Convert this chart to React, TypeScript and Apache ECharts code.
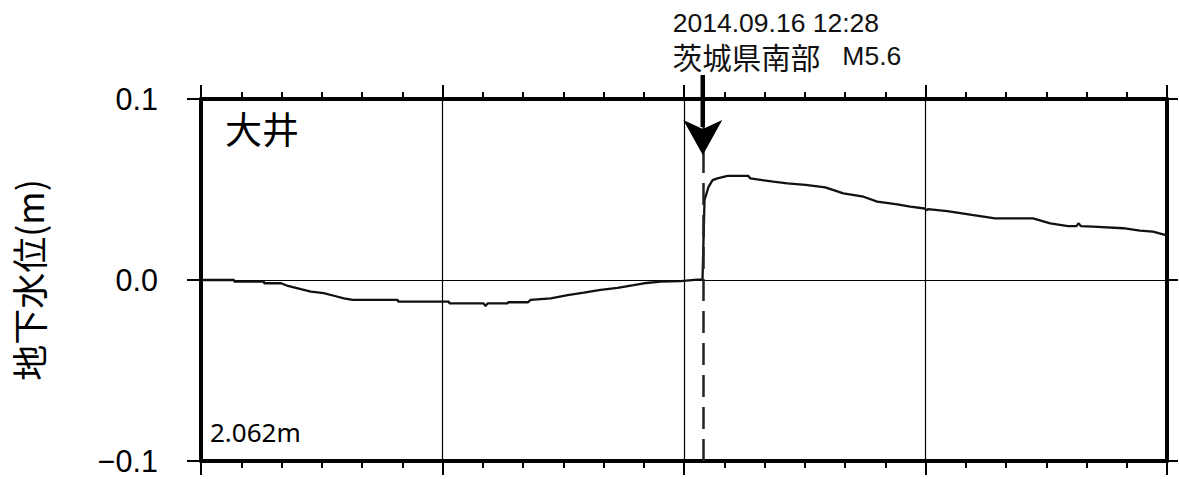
import React, { useEffect, useRef } from "react";
import * as echarts from "echarts";

// Hours since 2014-09-16 00:00 (x axis spans one day, 0..24 h)
const HOURS = [
  0, 0.82, 0.83, 1.56, 1.57, 1.99, 2.16, 2.48, 2.73, 3.05, 3.3, 3.55, 3.77, 4.89, 4.9,
  6.16, 6.17, 7.02, 7.07, 7.12, 7.62, 7.63, 8.12, 8.19, 8.69, 9.11, 9.51, 9.93, 10.35,
  10.75, 11.0, 11.42, 11.91, 12.34, 12.46, 12.51, 12.61, 12.71, 12.83, 13.08, 13.6,
  13.65, 14.22, 14.57, 15.02, 15.51, 15.96, 16.46, 16.8, 17.3, 17.62, 17.98, 18.02,
  18.06, 18.54, 19.19, 19.73, 20.67, 21.1, 21.54, 21.75, 21.8, 21.86, 22.16, 22.91,
  23.33, 23.65, 23.95, 24
];
// Groundwater level change (m)
const LEVELS = [
  0, 0, -0.0009, -0.0009, -0.0018, -0.0018, -0.0033, -0.0051, -0.0064, -0.0073, -0.0087,
  -0.0101, -0.011, -0.011, -0.012, -0.012, -0.0129, -0.0129, -0.0144, -0.0129, -0.0129,
  -0.0123, -0.0123, -0.011, -0.0101, -0.0083, -0.007, -0.0055, -0.0043, -0.0028,
  -0.0018, -0.0009, -0.0006, 0.0002, 0.0002, 0.0442, 0.0515, 0.0552, 0.0561, 0.0575,
  0.0575, 0.0561, 0.0543, 0.0534, 0.0525, 0.0512, 0.0479, 0.046, 0.0433, 0.0418,
  0.0405, 0.0395, 0.0385, 0.0392, 0.0381, 0.0359, 0.0341, 0.0341, 0.0313, 0.0298,
  0.0298, 0.0313, 0.0298, 0.0295, 0.0286, 0.0273, 0.0267, 0.0249, 0.0245
];
const Y_TICKS = [-0.1, 0, 0.1];
const Y_TICK_LABELS = ["\u22120.1", "0.0", "0.1"];

const EQ_HOUR = 12 + 28 / 60;
const EQ_LINE1 = "2014.09.16 12:28";
const EQ_PLACE = "茨城県南部";
const EQ_MAG = "M5.6";
const STATION = "大井";
const BASE_LEVEL = "2.062m";
const Y_NAME = "地下水位(m)";

const NUM_FONT = "'Noto Sans', 'Open Sans', sans-serif";
const LAT_FONT = "'Liberation Sans', Arial, sans-serif";
const CJK_FONT = "'Noto Sans CJK JP', sans-serif";

export default function App() {
  const ref = useRef<HTMLDivElement>(null);
  useEffect(() => {
    if (!ref.current) return;
    const chart = echarts.init(ref.current, null, { renderer: "svg" });
    const data = HOURS.map((h, i) => [h, LEVELS[i]]);
    const xCommon = {
      type: "value",
      min: 0,
      max: 24,
      interval: 6,
      axisLine: { show: true, onZero: false, lineStyle: { color: "#000", width: 4 } },
      axisTick: { show: true, inside: false, length: 14, lineStyle: { color: "#000", width: 2 } },
      minorTick: { show: true, splitNumber: 6, length: 7, lineStyle: { color: "#000", width: 2 } },
      axisLabel: { show: false },
    };
    const yFormat = (v: number) => {
      let best = 0;
      Y_TICKS.forEach((t, i) => {
        if (Math.abs(t - v) < Math.abs(Y_TICKS[best] - v)) best = i;
      });
      return Y_TICK_LABELS[best];
    };
    chart.setOption({
      animation: false,
      backgroundColor: "#fff",
      grid: { left: 201, right: 12, top: 99, bottom: 18, containLabel: false },
      xAxis: [
        {
          ...xCommon,
          position: "bottom",
          splitLine: { show: true, lineStyle: { color: "#000", width: 1.2 } },
        },
        { ...xCommon, position: "top", splitLine: { show: false } },
      ],
      yAxis: [
        {
          type: "value",
          min: -0.1,
          max: 0.1,
          interval: 0.1,
          position: "left",
          axisLine: { show: true, onZero: false, lineStyle: { color: "#000", width: 4 } },
          axisTick: { show: true, length: 14, lineStyle: { color: "#000", width: 2 } },
          axisLabel: {
            show: true,
            margin: 43,
            fontSize: 30.5,
            fontFamily: LAT_FONT,
            color: "#000",
            formatter: yFormat,
          },
          splitLine: { show: true, lineStyle: { color: "#000", width: 1.2 } },
        },
        {
          type: "value",
          min: -0.1,
          max: 0.1,
          interval: 0.1,
          position: "right",
          axisLine: { show: true, onZero: false, lineStyle: { color: "#000", width: 4 } },
          axisTick: { show: true, length: 11, lineStyle: { color: "#000", width: 2 } },
          axisLabel: { show: false },
          splitLine: { show: false },
        },
      ],
      series: [
        {
          type: "line",
          data,
          xAxisIndex: 0,
          yAxisIndex: 0,
          symbol: "none",
          lineStyle: { color: "#111", width: 2.3 },
          z: 3,
          markLine: {
            silent: true,
            symbol: "none",
            label: { show: false },
            lineStyle: { color: "#222", width: 2.5, type: [22, 10] },
            data: [{ xAxis: EQ_HOUR }],
          },
        },
      ],
    });

    const px = chart.convertToPixel({ xAxisIndex: 0 }, EQ_HOUR) as number;
    const yTop = chart.convertToPixel({ yAxisIndex: 0 }, 0.1) as number;
    const yBot = chart.convertToPixel({ yAxisIndex: 0 }, -0.1) as number;
    const gLeft = chart.convertToPixel({ xAxisIndex: 0 }, 0) as number;
    const yMid = chart.convertToPixel({ yAxisIndex: 0 }, 0) as number;

    chart.setOption({
      graphic: [
        {
          type: "line",
          z: 100,
          shape: { x1: px, y1: yTop - 24, x2: px, y2: yTop + 28 },
          style: { stroke: "#000", lineWidth: 4.5 },
        },
        {
          type: "polygon",
          z: 100,
          shape: {
            points: [
              [px - 19.5, yTop + 21],
              [px, yTop + 30],
              [px + 19.5, yTop + 21],
              [px, yTop + 56],
            ],
          },
          style: { fill: "#000" },
        },
        {
          type: "text",
          z: 100,
          x: px - 30,
          y: 23,
          style: {
            text: EQ_LINE1,
            fontFamily: LAT_FONT,
            fontSize: 26.5,
            fill: "#111",
            align: "left",
            verticalAlign: "middle",
          },
        },
        {
          type: "text",
          z: 100,
          x: px - 30,
          y: 56,
          style: {
            text: `{c|${EQ_PLACE}}{l|   ${EQ_MAG}}`,
            align: "left",
            verticalAlign: "middle",
            rich: {
              c: { fontFamily: CJK_FONT, fontSize: 29.5, fill: "#111" },
              l: { fontFamily: LAT_FONT, fontSize: 26.5, fill: "#111" },
            },
          },
        },
        {
          type: "text",
          z: 100,
          x: gLeft + 24,
          y: yTop + 29,
          style: {
            text: STATION,
            fontFamily: CJK_FONT,
            fontSize: 37,
            fill: "#000",
            align: "left",
            verticalAlign: "middle",
          },
        },
        {
          type: "text",
          z: 100,
          x: gLeft + 9,
          y: yBot - 29,
          style: {
            text: BASE_LEVEL,
            fontFamily: NUM_FONT,
            fontSize: 26,
            fill: "#000",
            align: "left",
            verticalAlign: "middle",
          },
        },
        {
          type: "text",
          z: 100,
          x: 28,
          y: yMid,
          rotation: Math.PI / 2,
          style: {
            text: Y_NAME,
            fontFamily: CJK_FONT,
            fontSize: 36,
            fill: "#000",
            align: "center",
            verticalAlign: "middle",
          },
        },
      ],
    });
    return () => chart.dispose();
  }, []);
  return (
    <div
      ref={ref}
      style={{ position: "fixed", left: 0, top: 0, width: 1179, height: 479, background: "#fff" }}
    />
  );
}
